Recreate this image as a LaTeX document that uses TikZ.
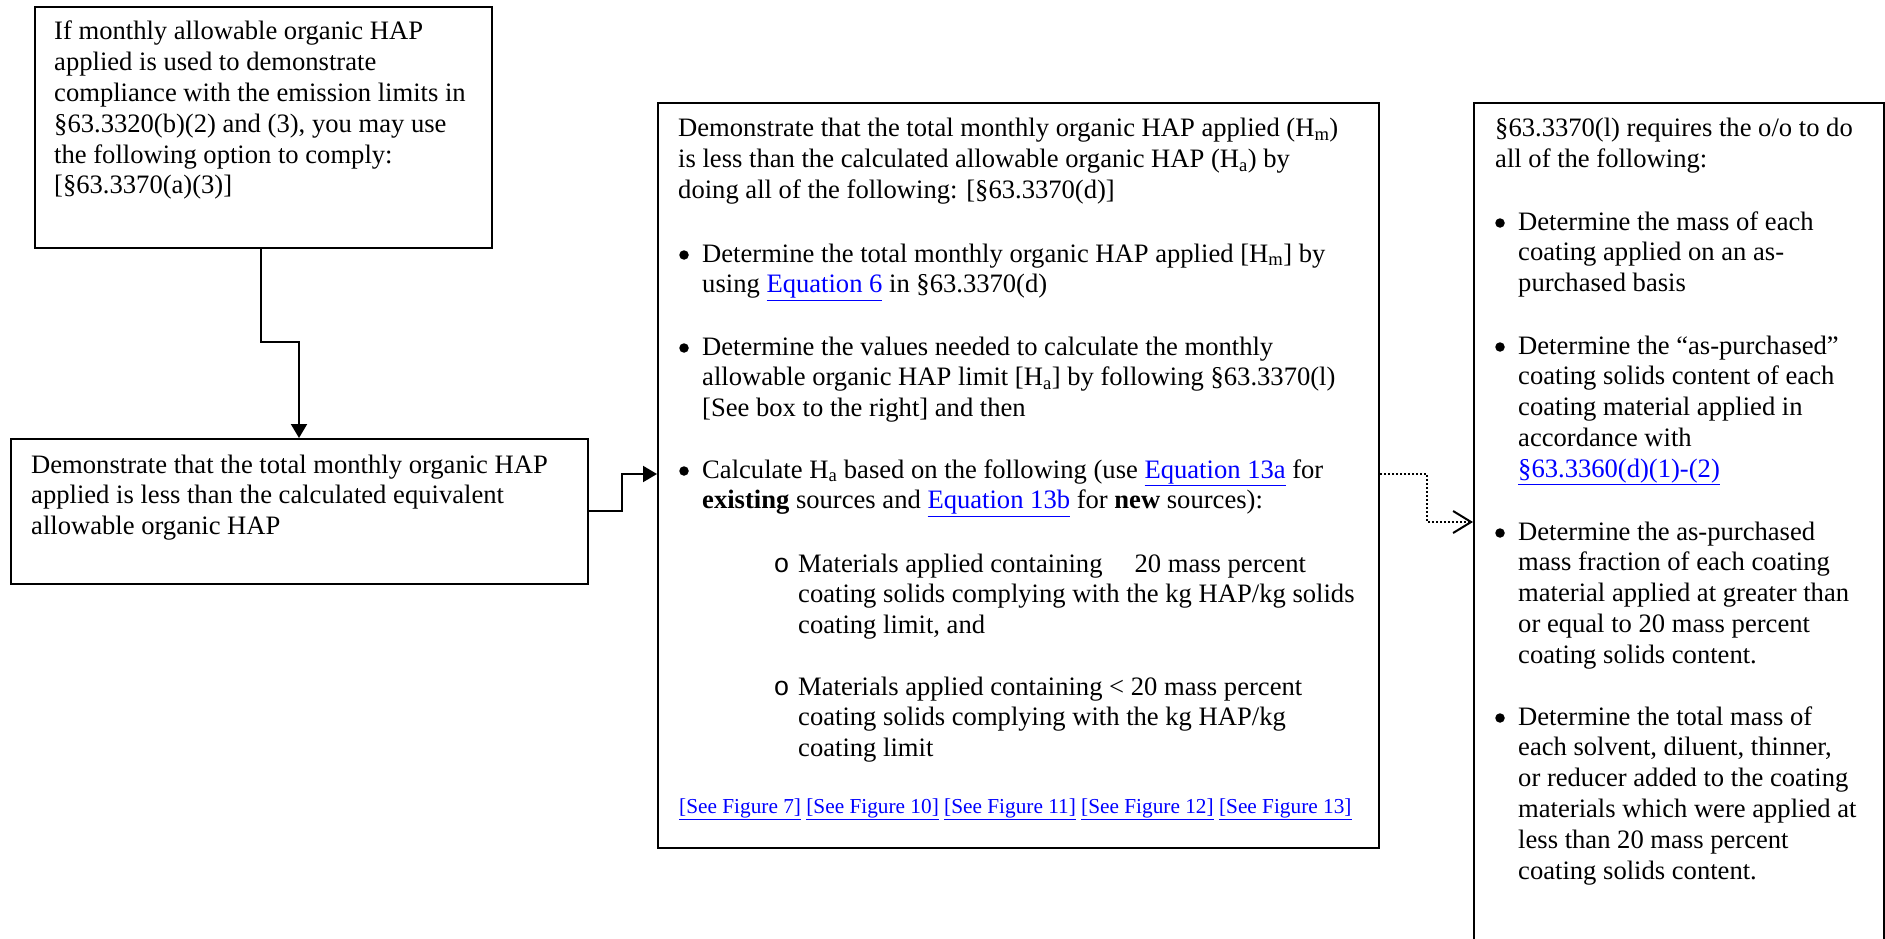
\documentclass[tikz,border=0pt]{standalone}
\usepackage{fontspec}
\setmainfont{Liberation Serif}
\newfontfamily\ringfont{Liberation Mono}
\usetikzlibrary{arrows.meta}
\definecolor{linkblue}{RGB}{0,0,255}
\newcommand{\lnk}[1]{\textcolor{linkblue}{\underline{#1}}}
\newcommand{\tb}[2]{\parbox[t]{#1}{\raggedright\fontsize{26.6}{30.8}\selectfont #2}}
\newcommand{\ring}{\fontsize{26.6}{30.8}\selectfont\ringfont o}
\begin{document}
\begin{tikzpicture}[x=1pt,y=-1pt,
  box/.style={draw, line width=2pt, anchor=north west, inner sep=0pt},
  txt/.style={anchor=base west, inner sep=0pt},
  dot/.style={circle, fill, draw=none, inner sep=0pt, minimum size=9.5pt},
  conn/.style={line width=2pt},
  solidarrow/.style={-{Triangle[length=14pt,width=16pt]}},
  openarrow/.style={-{Straight Barb[length=18pt,width=22pt,line width=2pt]}},
  dotline/.style={line width=2pt, dash pattern=on 2pt off 2pt}]
\useasboundingbox (0,0) rectangle (1885,939);

% boxes
\node[box, minimum width=457pt, minimum height=241pt] (b1) at (34,6) {};
\node[box, minimum width=577pt, minimum height=145pt] (b2) at (10,438) {};
\node[box, minimum width=721pt, minimum height=745pt] (b3) at (657,102) {};
\node[box, minimum width=410pt, minimum height=870pt] (b4) at (1473,102) {};

% box 1 text
\node[txt] (t1) at (54,40) {\tb{430pt}{If monthly allowable organic HAP\\
applied is used to demonstrate\\
compliance with the emission limits in\\
§63.3320(b)(2) and (3), you may use\\
the following option to comply:\\\relax
[§63.3370(a)(3)]}};

% box 2 text
\node[txt] (t2) at (31,473) {\tb{550pt}{Demonstrate that the total monthly organic HAP\\
applied is less than the calculated equivalent\\
allowable organic HAP}};

% box 3 text
\node[txt] (t3) at (678,137) {\tb{690pt}{Demonstrate that the total monthly organic HAP applied (H\textsubscript{m})\\
is less than the calculated allowable organic HAP (H\textsubscript{a}) by\\
doing all of the following: [§63.3370(d)]}};
\node[dot] (b3a) at (684,255) {};
\node[txt] (t3a) at (702,262) {\tb{670pt}{Determine the total monthly organic HAP applied [H\textsubscript{m}] by\\
using \lnk{Equation 6} in §63.3370(d)}};
\node[dot] (b3b) at (684,348) {};
\node[txt] (t3b) at (702,355) {\tb{670pt}{Determine the values needed to calculate the monthly\\
allowable organic HAP limit [H\textsubscript{a}] by following §63.3370(l)\\\relax
[See box to the right] and then}};
\node[dot] (b3c) at (684,471) {};
\node[txt] (t3c) at (702,478) {\tb{670pt}{Calculate H\textsubscript{a} based on the following (use \lnk{Equation 13a} for\\
\textbf{existing} sources and \lnk{Equation 13b} for \textbf{new} sources):}};
\node[txt] (r3a) at (773.5,572) {\ring};
\node[txt] (t3d) at (798,572) {\tb{575pt}{Materials applied containing\hspace*{32pt}20 mass percent\\
coating solids complying with the kg HAP/kg solids\\
coating limit, and}};
\node[txt] (r3b) at (773.5,695) {\ring};
\node[txt] (t3e) at (798,695) {\tb{575pt}{Materials applied containing < 20 mass percent\\
coating solids complying with the kg HAP/kg\\
coating limit}};
\node[txt] (t3f) at (679,813) {\fontsize{21.3}{25}\selectfont\lnk{[See Figure 7]} \lnk{[See Figure 10]} \lnk{[See Figure 11]} \lnk{[See Figure 12]} \lnk{[See Figure 13]}};

% box 4 text
\node[txt] (t4) at (1495,137) {\tb{380pt}{§63.3370(l) requires the o/o to do\\
all of the following:}};
\node[dot] (b4a) at (1500,223) {};
\node[txt] (t4a) at (1518,230) {\tb{360pt}{Determine the mass of each\\
coating applied on an as-\\
purchased basis}};
\node[dot] (b4b) at (1500,347) {};
\node[txt] (t4b) at (1518,354) {\tb{360pt}{Determine the “as-purchased”\\
coating solids content of each\\
coating material applied in\\
accordance with\\
\lnk{§63.3360(d)(1)-(2)}}};
\node[dot] (b4c) at (1500,533) {};
\node[txt] (t4c) at (1518,540) {\tb{360pt}{Determine the as-purchased\\
mass fraction of each coating\\
material applied at greater than\\
or equal to 20 mass percent\\
coating solids content.}};
\node[dot] (b4d) at (1500,718) {};
\node[txt] (t4d) at (1518,725) {\tb{360pt}{Determine the total mass of\\
each solvent, diluent, thinner,\\
or reducer added to the coating\\
materials which were applied at\\
less than 20 mass percent\\
coating solids content.}};

% connectors
\coordinate (c1) at (261,342);
\coordinate (c2) at (299,342);
\draw[conn, solidarrow] (c1 |- b1.south) -- (c1) -- (c2) -- (c2 |- b2.north);

\coordinate (c3) at (622,511);
\coordinate (c4) at (622,474);
\draw[conn, solidarrow] (b2.east |- c3) -- (c3) -- (c4) -- (c4 -| b3.west);

\coordinate (c5) at (1427,474);
\coordinate (c6) at (1427,522);
\draw[dotline, openarrow] (b3.east |- c5) -- (c5) -- (c6) -- (c6 -| b4.west);
\end{tikzpicture}
\end{document}
